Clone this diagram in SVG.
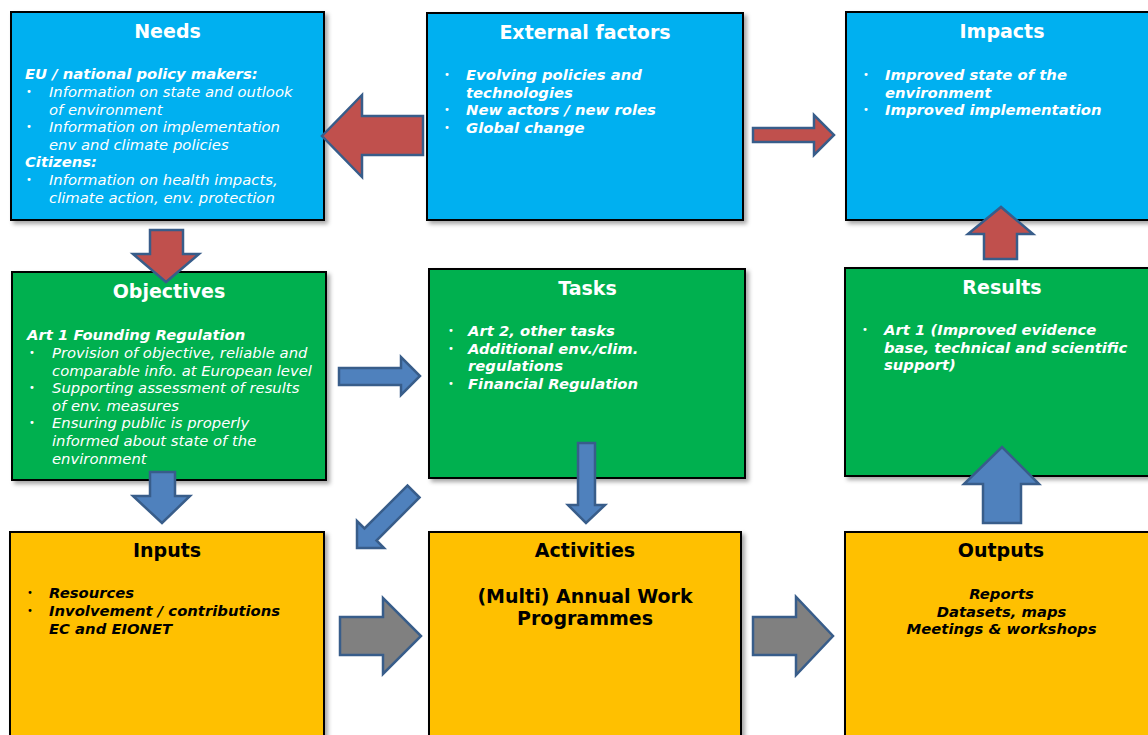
<svg xmlns="http://www.w3.org/2000/svg" width="1148" height="735" viewBox="0 0 1148 735">
<defs>
<filter id="sh" x="-5%" y="-5%" width="115%" height="115%">
<feDropShadow dx="3" dy="3" stdDeviation="2" flood-color="#000" flood-opacity="0.35"/>
</filter>
</defs>
<style>
.box{stroke:#000;stroke-width:2;filter:url(#sh)}
.cyan{fill:#00B0F0}
.green{fill:#00B050}
.yellow{fill:#FFC000}
text{font-family:"DejaVu Sans","Verdana",sans-serif}
.t{font-size:19px;font-weight:bold;text-anchor:middle}
.w{fill:#fff}
.k{fill:#000}
.b{font-size:10px}
.bi{font-size:14.8px;font-weight:bold;font-style:italic}
.i{font-size:14.8px;font-style:italic}
.c{text-anchor:middle}
.red{fill:#C0504D;stroke:#385D8A;stroke-width:2.5;stroke-linejoin:miter}
.blue{fill:#4F81BD;stroke:#385D8A;stroke-width:2.5}
.gray{fill:#808080;stroke:#385D8A;stroke-width:2.5}
</style>
<rect width="1148" height="735" fill="#fff"/>

<g id="needs">
<rect class="box cyan" x="11" y="12" width="313" height="208"/>
<text class="t w" x="167.5" y="38">Needs</text>
<text class="bi w" x="25" y="79">EU / national policy makers:</text>
<text class="b w" x="26" y="95">•</text>
<text class="i w" x="49" y="97">Information on state and outlook</text>
<text class="i w" x="49" y="114.5">of environment</text>
<text class="b w" x="26" y="130">•</text>
<text class="i w" x="49" y="132">Information on implementation</text>
<text class="i w" x="49" y="150">env and climate policies</text>
<text class="bi w" x="25" y="167">Citizens:</text>
<text class="b w" x="26" y="183">•</text>
<text class="i w" x="49" y="185">Information on health impacts,</text>
<text class="i w" x="49" y="202.5">climate action, env. protection</text>
</g>

<g id="external-factors">
<rect class="box cyan" x="427" y="13" width="316" height="207"/>
<text class="t w" x="585" y="39">External factors</text>
<text class="b w" x="444" y="78">•</text>
<text class="bi w" x="466" y="80">Evolving policies and</text>
<text class="bi w" x="466" y="97.5">technologies</text>
<text class="b w" x="444" y="113">•</text>
<text class="bi w" x="466" y="115">New actors / new roles</text>
<text class="b w" x="444" y="131">•</text>
<text class="bi w" x="466" y="133">Global change</text>
</g>

<g id="impacts">
<rect class="box cyan" x="846" y="12" width="312" height="208"/>
<text class="t w" x="1002" y="38">Impacts</text>
<text class="b w" x="863" y="78">•</text>
<text class="bi w" x="885" y="80">Improved state of the</text>
<text class="bi w" x="885" y="97.5">environment</text>
<text class="b w" x="863" y="113">•</text>
<text class="bi w" x="885" y="115">Improved implementation</text>
</g>

<g id="objectives">
<rect class="box green" x="12" y="272" width="314" height="208"/>
<text class="t w" x="169" y="298">Objectives</text>
<text class="bi w" x="27" y="340">Art 1 Founding Regulation</text>
<text class="b w" x="29" y="356">•</text>
<text class="i w" x="52" y="358">Provision of objective, reliable and</text>
<text class="i w" x="52" y="375.5">comparable info. at European level</text>
<text class="b w" x="29" y="391">•</text>
<text class="i w" x="52" y="393">Supporting assessment of results</text>
<text class="i w" x="52" y="410.5">of env. measures</text>
<text class="b w" x="29" y="426">•</text>
<text class="i w" x="52" y="428">Ensuring public is properly</text>
<text class="i w" x="52" y="446">informed about state of the</text>
<text class="i w" x="52" y="463.5">environment</text>
</g>

<g id="tasks">
<rect class="box green" x="429" y="269" width="316" height="209"/>
<text class="t w" x="587.5" y="295">Tasks</text>
<text class="b w" x="448" y="334">•</text>
<text class="bi w" x="468" y="336">Art 2, other tasks</text>
<text class="b w" x="448" y="352">•</text>
<text class="bi w" x="468" y="354">Additional env./clim.</text>
<text class="bi w" x="468" y="371">regulations</text>
<text class="b w" x="448" y="387">•</text>
<text class="bi w" x="468" y="389">Financial Regulation</text>
</g>

<g id="results">
<rect class="box green" x="845" y="268" width="313" height="208"/>
<text class="t w" x="1002" y="294">Results</text>
<text class="b w" x="862" y="333">•</text>
<text class="bi w" x="884" y="335">Art 1 (Improved evidence</text>
<text class="bi w" x="884" y="353">base, technical and scientific</text>
<text class="bi w" x="884" y="370">support)</text>
</g>

<g id="inputs">
<rect class="box yellow" x="10" y="532" width="314" height="215"/>
<text class="t k" x="167" y="557">Inputs</text>
<text class="b k" x="27" y="596">•</text>
<text class="bi k" x="49" y="598">Resources</text>
<text class="b k" x="27" y="614">•</text>
<text class="bi k" x="49" y="616">Involvement / contributions</text>
<text class="bi k" x="49" y="634">EC and EIONET</text>
</g>

<g id="activities">
<rect class="box yellow" x="429" y="532" width="312" height="215"/>
<text class="t k" x="585" y="557">Activities</text>
<text class="t k" x="585" y="603">(Multi) Annual Work</text>
<text class="t k" x="585" y="625">Programmes</text>
</g>

<g id="outputs">
<rect class="box yellow" x="845" y="532" width="313" height="215"/>
<text class="t k" x="1001" y="557">Outputs</text>
<text class="bi k c" x="1001.5" y="599">Reports</text>
<text class="bi k c" x="1001.5" y="617">Datasets, maps</text>
<text class="bi k c" x="1001.5" y="634">Meetings &amp; workshops</text>
</g>

<g id="connectors">
<polygon class="red" points="423,116 362,116 362,95 322,136 362,177 362,155 423,155"/>
<polygon class="red" points="753,128 814,128 814,115 834,135 814,155 814,142 753,142"/>
<polygon class="red" points="150,230 183,230 183,254 199,254 166,282 133,254 150,254"/>
<polygon class="red" points="984,259 1017,259 1017,234 1033,234 1001,207 968,234 984,234"/>
<polygon class="blue" points="150,472 175,472 175,496 190,496 162,523 133,496 150,496"/>
<polygon class="blue" points="339,368 401,368 401,357 420,376 401,395 401,385 339,385"/>
<polygon class="blue" points="419.5,497.5 407.5,485.5 364.5,528.5 357,521 357,548 384,548 376.5,540.5"/>
<polygon class="blue" points="578,443 595,443 595,505 605,505 586,523 568,505 578,505"/>
<polygon class="blue" points="983,523 1021,523 1021,484 1039,484 1002,447 964,484 983,484"/>
<polygon class="gray" points="340,617 383,617 383,598 421,636 383,674 383,655 340,655"/>
<polygon class="gray" points="753,617 796,617 796,597 833,636 796,675 796,655 753,655"/>
</g>
</svg>
